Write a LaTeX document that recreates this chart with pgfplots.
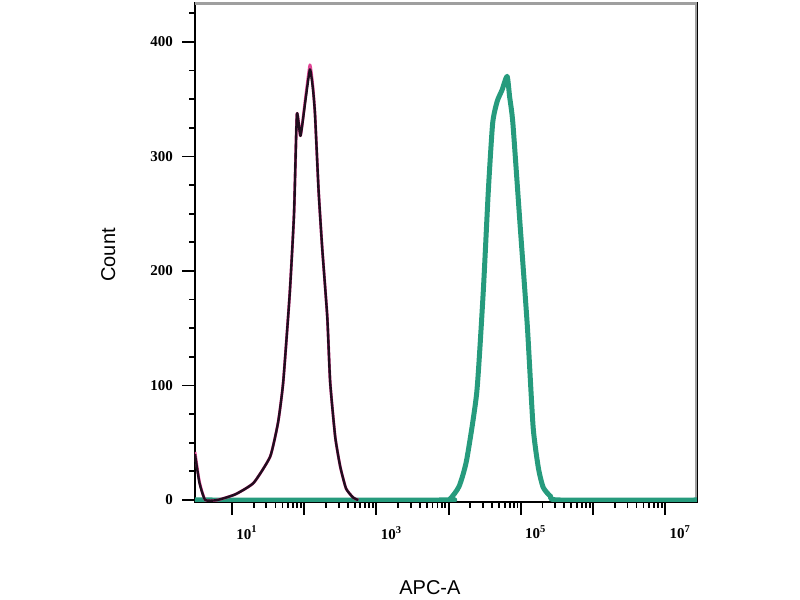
\documentclass[border=0pt]{standalone}
\usepackage{fontspec}
\setmainfont{Liberation Sans}
\newfontfamily\tickfont{Liberation Serif}
\usepackage{pgfplots}
\pgfplotsset{compat=1.18}
\definecolor{teal1}{RGB}{38,155,125}
\definecolor{dark1}{RGB}{32,14,30}
\definecolor{mag1}{RGB}{225,70,150}
\begin{document}
\begin{tikzpicture}
\useasboundingbox (0,0) rectangle (400pt,300pt);
\begin{axis}[
  at={(97.5pt,49pt)}, anchor=south west,
  scale only axis, width=251pt, height=249.5pt,
  xmode=log,
  xmin=3.08, xmax=2.75e7,
  ymin=-1.75, ymax=434,
  xtick={10,100,1000,10000,100000,1000000,10000000},
  xticklabels={10\textsuperscript{1},,10\textsuperscript{3},,10\textsuperscript{5},,10\textsuperscript{7}},
  ytick={0,100,200,300,400},
  minor ytick={25,50,75,125,150,175,225,250,275,325,350,375,425},
  xtick pos=bottom, ytick pos=left,
  tick align=outside,
  major tick length=6.5pt, minor tick length=3pt,
  tick style={black, line width=0.9pt},
  axis line style={black, line width=0.8pt},
  /pgf/number format/assume math mode=true,
  ticklabel style={font=\tickfont\bfseries\fontsize{7.5}{8}\selectfont},
  xticklabel style={xshift=7.5pt, yshift=-2pt},
  yticklabel style={xshift=-1pt},
  ylabel={Count},
  ylabel style={at={(axis description cs:-0.173,0.495)}, anchor=center, font=\fontsize{10}{12}\selectfont},
  xlabel={APC-A},
  xlabel style={at={(axis description cs:0.468,-0.172)}, anchor=center, font=\fontsize{10}{12}\selectfont},
  clip=true,
]
\draw[gray!75, line width=1.6pt] (rel axis cs:0,1) -- (rel axis cs:1,1) -- (rel axis cs:1,0);
% teal (stained) histogram
\addplot[teal1, line width=2.5pt, line join=round, smooth, tension=0.35] coordinates {
(3.08,0) (8000,0) (10471,1) (14000,12) (17783,35) (24547,94) (30200,182)
(35481,270) (40738,329) (47000,348) (54954,358) (64565,370) (70000,352)
(77625,329) (97724,240) (123027,152) (147911,64) (175000,28) (204174,11)
(260000,3) (346737,0) (2.75e7,0)};
% magenta (control) histogram
\addplot[mag1, line width=1.4pt, line join=round, smooth, tension=0.3] coordinates {
(3.08,42) (3.55,16) (4.27,0) (6.31,0) (11.2,5) (20.0,15) (33.9,38) (43.6,68)
(51.3,103) (63.1,180) (72.4,250) (79.4,337) (89.0,318) (104.7,352) (120.2,380)
(131.8,362) (141.3,337) (158.5,270) (177.8,220) (208.9,160) (229.1,103)
(269.2,55) (316.2,29) (380.2,10) (478.6,2) (562.3,0)};
% black (isotype) histogram
\addplot[dark1, line width=1.2pt, line join=round, smooth, tension=0.3] coordinates {
(3.08,40) (3.55,15) (4.27,0) (6.31,0) (11.2,5) (20.0,15) (33.9,38) (43.6,68)
(51.3,103) (63.1,180) (72.4,250) (79.4,337) (89.0,318) (104.7,350) (120.2,376)
(131.8,360) (141.3,337) (158.5,270) (177.8,220) (208.9,160) (229.1,103)
(269.2,55) (316.2,29) (380.2,10) (478.6,2) (562.3,0)};
\end{axis}
\end{tikzpicture}
\end{document}
